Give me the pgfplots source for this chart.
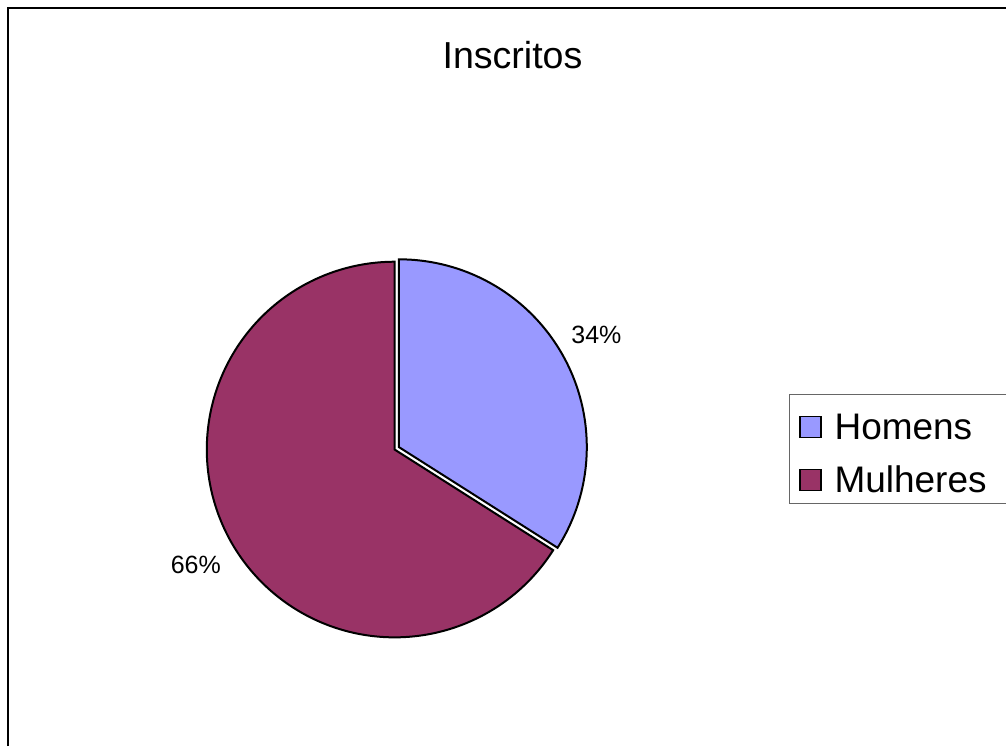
\documentclass[border=0pt]{standalone}
\usepackage{pgfplots}
\usepackage{pgfplotstable}
\pgfplotsset{compat=1.18}
\usepackage{fontspec}
\setmainfont{Liberation Sans}
\definecolor{homens}{HTML}{9999FF}
\definecolor{mulheres}{HTML}{993366}
\pgfplotstableread{
label value
Homens 34
Mulheres 66
}\piedata
\begin{document}
\begin{tikzpicture}
\pgfplotstablegetelem{0}{value}\of\piedata \let\va\pgfplotsretval
\pgfplotstablegetelem{1}{value}\of\piedata \let\vb\pgfplotsretval
\pgfmathsetmacro\angH{360*\va/(\va+\vb)}
\pgfmathsetmacro\startH{90-\angH}
\pgfmathsetmacro\midH{90-\angH/2}
\pgfmathsetmacro\cx{395}
\pgfmathsetmacro\cy{297}
\pgfmathsetmacro\rr{188}
\pgfmathsetmacro\hx{\cx+5*cos(\midH)}
\pgfmathsetmacro\hy{\cy+5*sin(\midH)}
\begin{axis}[
  scale only axis, width=503.5pt, height=373.5pt,
  xmin=0, xmax=1007, ymin=0, ymax=747,
  axis lines=none, clip=false,
  trig format plots=deg,
]
% full canvas
\path (0,0) rectangle (1007,747);
% frame (right and bottom edges outside the picture)
\draw[black, line width=1pt] (8,0) -- (8,739) -- (1007,739);
% slices
\addplot[fill=mulheres, draw=black, line width=1pt, domain=-270:\startH, samples=240]
  ({\cx+\rr*cos(x)},{\cy+\rr*sin(x)}) -- (\cx,\cy) -- cycle;
\addplot[fill=homens, draw=black, line width=1pt, domain=\startH:90, samples=120]
  ({\hx+\rr*cos(x)},{\hy+\rr*sin(x)}) -- (\hx,\hy) -- cycle;
% data labels
\node[font=\fontsize{12.5}{15}\selectfont] at (597,412) {\va\%};
\node[font=\fontsize{12.5}{15}\selectfont] at (196,182) {\vb\%};
% title
\node[font=\fontsize{18.8}{22}\selectfont] at (513,692) {Inscritos};
% legend
\draw[black!60, line width=0.6pt] (1007,352) -- (790,352) -- (790,243) -- (1007,243);
\draw[black, line width=0.8pt, fill=homens] (801,309) rectangle (822,330);
\draw[black, line width=0.8pt, fill=mulheres] (801,256) rectangle (822,277);
\node[anchor=west, inner sep=0pt, font=\fontsize{18.5}{22}\selectfont] at (835,320) {Homens};
\node[anchor=west, inner sep=0pt, font=\fontsize{18.5}{22}\selectfont] at (835,267) {Mulheres};
\end{axis}
\end{tikzpicture}
\end{document}
